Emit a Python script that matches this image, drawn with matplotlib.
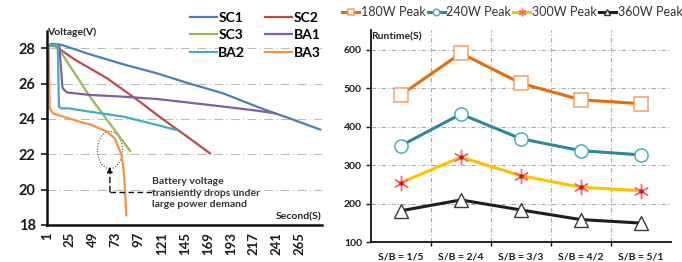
import matplotlib
matplotlib.use("Agg")
import matplotlib.pyplot as plt
from matplotlib.patches import Ellipse

plt.rcParams['font.family'] = ['Lato', 'DejaVu Sans']

# ---------------- Left chart data (voltage vs. second) ----------------
sc1_x = [1, 6, 16, 46, 81, 116, 150, 185, 220, 241, 254, 286]
sc1_y = [28.1, 28.25, 28.2, 27.66, 27.09, 26.58, 26.0, 25.45, 24.7, 24.28, 24.04, 23.4]
sc2_x = [1, 9, 32, 46, 64, 81, 98, 116, 133, 150, 171]
sc2_y = [28.15, 28.15, 27.3, 26.87, 26.3, 25.64, 24.98, 24.23, 23.56, 22.9, 22.06]
sc3_x = [1, 12, 46, 88]
sc3_y = [28.15, 28.1, 25.26, 22.19]
ba1_x = [1, 14, 17.5, 22, 46, 81, 116, 150, 185, 220, 239]
ba1_y = [28.15, 28.2, 25.75, 25.5, 25.36, 25.26, 25.13, 24.92, 24.7, 24.47, 24.32]
ba2_x = [1, 12.5, 13.8, 16, 24, 46, 81, 116, 136]
ba2_y = [28.15, 28.2, 24.7, 24.6, 24.6, 24.41, 24.13, 23.66, 23.38]
ba3_x = [1, 3, 4, 8, 38, 46, 64, 72, 79, 81.5, 84]
ba3_y = [28.1, 28.1, 24.6, 24.3, 23.8, 23.7, 23.28, 22.9, 21.96, 20.94, 18.55]
left_series = [
    ("SC1", sc1_x, sc1_y, "#4A7EBB"),
    ("SC2", sc2_x, sc2_y, "#BE4B48"),
    ("SC3", sc3_x, sc3_y, "#98B954"),
    ("BA1", ba1_x, ba1_y, "#7D60A0"),
    ("BA2", ba2_x, ba2_y, "#46AAC5"),
    ("BA3", ba3_x, ba3_y, "#F69240"),
]
left_xticks = [1, 25, 49, 73, 97, 121, 145, 169, 193, 217, 241, 265]
left_yticks = [18, 20, 22, 24, 26, 28]

# ---------------- Right chart data (runtime vs. S/B) ----------------
categories = ["S/B = 1/5", "S/B = 2/4", "S/B = 3/3", "S/B = 4/2", "S/B = 5/1"]
peak180 = [483, 591, 513, 470, 460]
peak240 = [351, 433, 369, 338, 327]
peak300 = [255, 321, 273, 243, 234]
peak360 = [182, 210, 184, 159, 150]
right_yticks = [100, 200, 300, 400, 500, 600]

W, H = 682, 262
fig = plt.figure(figsize=(W / 100, H / 100), dpi=100)

def rect(l, r, b, t):
    return [l / W, 1 - b / H, (r - l) / W, (b - t) / H]

# ================= Left axes =================
ax1 = fig.add_axes(rect(46.7, 322, 225, 30.6))
lines = {}
for name, xs, ys, c in left_series:
    lines[name], = ax1.plot(xs, ys, color=c, lw=1.6, label=name, solid_joinstyle='round')
ax1.set_xlim(1, 288)
ax1.set_ylim(18, 29)
ax1.set_yticks(left_yticks)
ax1.set_xticks(left_xticks)
ax1.set_xticklabels([str(v) for v in left_xticks], rotation=90, fontsize=9.5,
                    fontweight='bold')
ax1.set_yticklabels([str(v) for v in left_yticks], fontsize=10.5, fontweight='bold')
ax1.tick_params(axis='y', length=4, width=1.2, pad=4, colors='#1a1a1a')
ax1.tick_params(axis='x', length=0, pad=5, colors='#1a1a1a')
for s in ['top', 'right']:
    ax1.spines[s].set_visible(False)
for s in ['left', 'bottom']:
    ax1.spines[s].set_linewidth(1.8)
    ax1.spines[s].set_color('#111111')
for yv in [20, 22, 24, 26, 28]:
    ax1.axhline(yv, color='#BBBBBB', lw=0.8, ls=(0, (8, 3, 1, 3)), zorder=0)
ax1.text(1.2, 28.9, "Voltage(V)", fontsize=7.5, fontweight='bold', va='center',
         ha='left', color='#222222', clip_on=False)
ax1.text(287, 18.44, "Second(S)", fontsize=7.5, fontweight='bold', va='center',
         ha='right', color='#222222')
ax1.add_patch(Ellipse((66.9, 22.24), 26, 2.1, fill=False, ls=(0, (1, 1.5)),
                      lw=0.8, ec='#444444'))
ax1.plot([66.9, 110.7], [19.88, 19.88], color='#111111', lw=1.0, ls=(0, (4, 2.5)))
ax1.annotate("", xy=(66.9, 21.3), xytext=(66.9, 19.88),
             arrowprops=dict(arrowstyle='-|>', color='#111111', lw=1.0,
                             ls=(0, (4, 2.5)), mutation_scale=8, shrinkA=0, shrinkB=0))
ax1.text(110.6, 19.8, "Battery voltage\ntransiently drops under\nlarge power demand",
         fontsize=7.5, fontweight='bold', va='center', ha='left', color='#333333',
         linespacing=1.35)

order = ["SC1", "SC3", "BA2", "SC2", "BA1", "BA3"]
fig.legend([lines[n] for n in order], order, loc='upper left',
           bbox_to_anchor=(190 / W, 1 - 12.0 / H), ncol=2, frameon=False,
           handlelength=1.94, handletextpad=0.1, columnspacing=1.45,
           labelspacing=0.38, borderpad=0, borderaxespad=0,
           prop={'weight': 'bold', 'size': 10})

# ================= Right axes =================
ax2 = fig.add_axes(rect(371, 670.7, 242.3, 30.5))
xs = list(range(len(categories)))
ax2.plot(xs, peak180, color='#E46C0A', lw=2.2, marker='s', ms=9.5, mfc='white',
         mec='#F2A264', mew=1.1, label='180W Peak')
ax2.plot(xs, peak240, color='#31859C', lw=2.2, marker='o', ms=9.5, mfc='white',
         mec='#4BACC6', mew=1.1, label='240W Peak')
ax2.plot(xs, peak300, color='#FFC000', lw=2.2, marker=(6, 2, 0), ms=11,
         mec='#F26B6B', mew=1.0, label='300W Peak')
ax2.plot(xs, peak300, ls='none', marker='o', ms=2.2, color='#D81010')
ax2.plot(xs, peak360, color='#1E1E1E', lw=2.2, marker='^', ms=10, mfc='white',
         mec='#3A3A3A', mew=1.0, label='360W Peak')
ax2.set_xlim(-0.5, 4.5)
ax2.set_ylim(100, 650)
ax2.set_yticks(right_yticks)
ax2.set_yticklabels([str(v) for v in right_yticks], fontsize=7.5, fontweight='bold')
ax2.set_xticks(xs)
ax2.set_xticklabels(categories, fontsize=7.5, fontweight='bold')
ax2.set_xticks([0.5, 1.5, 2.5, 3.5], minor=True)
ax2.tick_params(axis='x', which='major', length=0, pad=7, colors='#1a1a1a')
ax2.tick_params(axis='x', which='minor', length=3, width=1)
ax2.tick_params(axis='y', length=3.5, width=1, pad=3, colors='#1a1a1a')
for s in ['top', 'right']:
    ax2.spines[s].set_visible(False)
for s in ['left', 'bottom']:
    ax2.spines[s].set_linewidth(1.3)
    ax2.spines[s].set_color('#111111')
for yv in [200, 300, 400, 500, 600]:
    ax2.axhline(yv, color='#AAAAAA', lw=0.8, ls=(0, (4, 2, 1, 2)), zorder=0)
for xv in [0.5, 1.5, 2.5, 3.5]:
    ax2.axvline(xv, color='#AAAAAA', lw=0.8, ls=(0, (4, 2, 1, 2)), zorder=0)
ax2.text(-0.49, 633, "Runtime(S)", fontsize=7.5, fontweight='bold', va='center',
         ha='left', color='#222222')

h2, l2 = ax2.get_legend_handles_labels()
fig.legend(h2, l2, loc='upper left', bbox_to_anchor=(342 / W, 1 - 6.5 / H), ncol=4,
           frameon=False, fontsize=9, handlelength=1.36, handletextpad=0.15,
           columnspacing=0.15, markerscale=0.5, borderpad=0, borderaxespad=0,
           labelcolor='#333333')

fig.savefig("out.png", dpi=100)
